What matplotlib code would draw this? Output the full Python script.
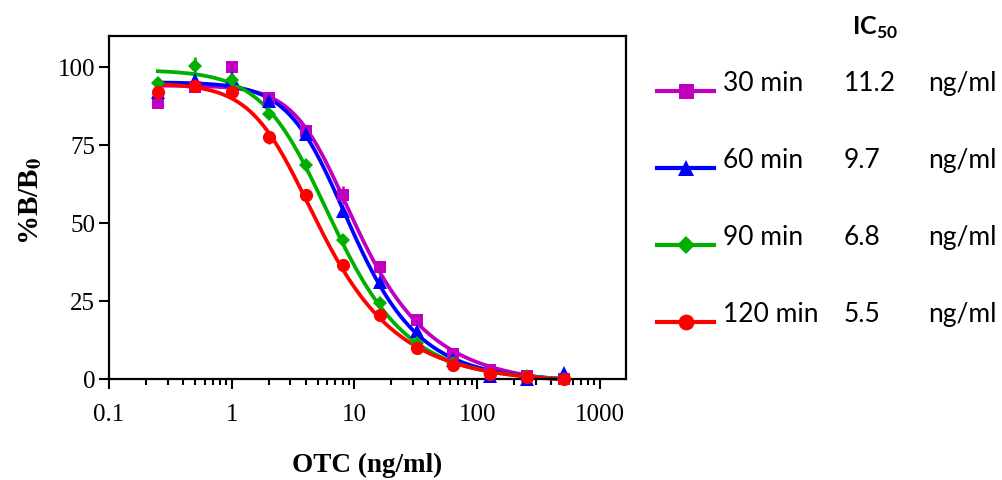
import numpy as np
import matplotlib
matplotlib.use("Agg")
import matplotlib.pyplot as plt
from matplotlib.lines import Line2D
from matplotlib.ticker import LogLocator, FixedLocator, NullFormatter

plt.rcParams['mathtext.fontset'] = 'custom'
plt.rcParams['mathtext.rm'] = 'Lato'
plt.rcParams['mathtext.bf'] = 'Lato:bold'

# OTC standard concentrations (ng/ml)
conc = [0.25, 0.5, 1, 2, 4, 8, 16, 32, 64, 128, 256, 512]

# %B/B0 means and SD for each incubation time
b30 = [88.5, 93.5, 100, 90, 79.5, 59, 36, 19, 8, 3, 1, 0]
b60 = [92, 96, 96.5, 89, 78.5, 54, 31, 15.5, 6, 1, 0, 2]
b90 = [95, 100.5, 96, 85, 68.5, 44.5, 24.5, 11.5, 5, 1.5, 1, 0]
b120 = [92, 94, 92, 77.5, 59, 36.5, 20.5, 10, 4.5, 1.5, 0.5, 0]

sd30 = [1, 1, 1, 1, 1, 3, 1, 1, 1, 1, 0.5, 0.5]
sd60 = [1, 1, 1, 1, 1, 1, 1, 1, 1, 0.5, 0.5, 0.5]
sd90 = [1.5, 2.7, 1, 1.5, 1, 1, 1, 1, 0.5, 0.5, 0.5, 0.5]
sd120 = [1, 1, 1, 2, 1, 2, 1, 1, 0.5, 0.5, 0.5, 0.5]

labels = ["30 min", "60 min", "90 min", "120 min"]
ic50 = [11.2, 9.7, 6.8, 5.5]

colors = ['#BF00BF', '#0000FF', '#00B000', '#FF0000']
markers = ['s', '^', 'D', 'o']
msizes = [9, 10, 7.5, 9.5]


def shape5pl(x, c50, b, g):
    # 5PL shape normalised so that it equals 0.5 at c50
    c = c50 / (2 ** (1 / g) - 1) ** (1 / b)
    return 1 / (1 + (x / c) ** b) ** g


def fit5pl(x, y, c50):
    # grid over slope/asymmetry, top and bottom solved by least squares
    x = np.asarray(x, float)
    y = np.asarray(y, float)
    best = None
    for b in np.arange(0.8, 3.5, 0.02):
        for g in np.arange(0.2, 2.0, 0.02):
            f = shape5pl(x, c50, b, g)
            A = np.column_stack([f, 1 - f])
            coef, *_ = np.linalg.lstsq(A, y, rcond=None)
            res = np.sum((A @ coef - y) ** 2)
            if best is None or res < best[0]:
                best = (res, b, g, coef[0], coef[1])
    return best[1:]


W, H = 1002, 480
fig = plt.figure(figsize=(W / 100, H / 100), dpi=100)
ax = fig.add_axes([109 / W, 1 - 379 / H, (626 - 109) / W, (379 - 36) / H])

series = [b30, b60, b90, b120]
errs = [sd30, sd60, sd90, sd120]
xfit = np.logspace(np.log10(conc[0]), np.log10(conc[-1]), 300)

# draw 120 min first so 30 min ends up on top
for i in [3, 2, 1, 0]:
    b, g, top, bot = fit5pl(conc, series[i], ic50[i])
    yfit = bot + (top - bot) * shape5pl(xfit, ic50[i], b, g)
    ax.plot(xfit, yfit, color=colors[i], lw=2.7, zorder=2 + i * 0.1, clip_on=False)
    ax.errorbar(conc, series[i], yerr=errs[i], fmt=markers[i], color=colors[i],
                ms=msizes[i], mew=0, elinewidth=1.8, capsize=5, capthick=1.8,
                zorder=3 + i * 0.1, clip_on=False)

ax.set_xscale('log')
ax.set_xlim(0.1, 10 ** (3 + 26 / 122.7))
ax.set_ylim(0, 110)
ax.xaxis.set_major_locator(FixedLocator([0.1, 1, 10, 100, 1000]))
ax.xaxis.set_minor_locator(LogLocator(base=10, subs=np.arange(2, 10), numticks=20))
ax.xaxis.set_minor_formatter(NullFormatter())
ax.set_xticklabels(['0.1', '1', '10', '100', '1000'])
ax.set_yticks([0, 25, 50, 75, 100])

for s in ax.spines.values():
    s.set_linewidth(1.6)
ax.tick_params(axis='both', which='major', direction='out', length=7, width=1.5, labelsize=18)
ax.tick_params(axis='x', which='major', pad=11)
ax.tick_params(axis='y', which='major', pad=3)
ax.tick_params(axis='x', which='minor', direction='out', length=4.5, width=1.5)
for lab in ax.get_xticklabels() + ax.get_yticklabels():
    lab.set_fontfamily('Liberation Serif')

ax.set_xlabel('OTC (ng/ml)', fontsize=19.5, fontweight='bold',
              fontfamily='Liberation Serif', va='top')
ax.xaxis.set_label_coords(0.5, -0.215)
ax.set_ylabel(r'%B/B$_\mathbf{0}$', fontsize=21, fontweight='bold',
              fontfamily='Liberation Serif', math_fontfamily='stix')
ax.yaxis.set_label_coords(-0.125, 0.52)

# legend with IC50 values
fig.text(852 / W, 1 - 35 / H, r'IC$_{\mathbf{50}}$', fontsize=18, fontweight='bold',
         fontfamily='Lato', va='baseline', ha='left')
row_y = [91, 168, 245, 322]
for i in range(4):
    yf = 1 - row_y[i] / H
    fig.add_artist(Line2D([657 / W, 714 / W], [yf, yf], color=colors[i], lw=3,
                          transform=fig.transFigure))
    fig.add_artist(Line2D([685.5 / W], [yf], color=colors[i], marker=markers[i],
                          ms=msizes[i] * 1.2, mew=0, transform=fig.transFigure))
    fig.text(723 / W, yf, labels[i], fontsize=19, fontfamily='Lato', va='baseline')
    fig.text(844 / W, yf, str(ic50[i]), fontsize=19, fontfamily='Lato', va='baseline')
    fig.text(928 / W, yf, 'ng/ml', fontsize=19, fontfamily='Lato', va='baseline')

fig.savefig('out.png', dpi=100)
